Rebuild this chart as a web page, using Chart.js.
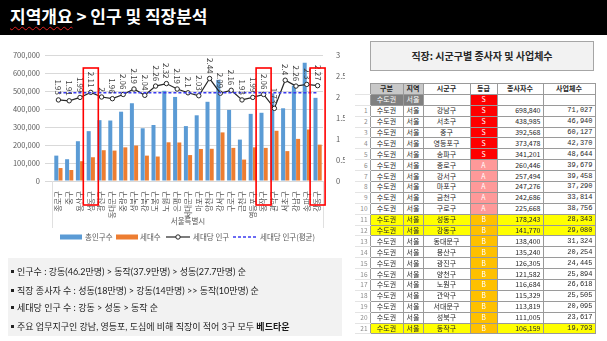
<!DOCTYPE html>
<html>
<head>
<meta charset="utf-8">
<script src="https://cdn.jsdelivr.net/npm/chart.js@4.4.1/dist/chart.umd.min.js"></script>
<style>
  body { margin: 0; width: 607px; height: 341px; background: #fff; position: relative; overflow: hidden; font-family: "Noto Sans CJK KR", sans-serif; }
  #hdr { position: absolute; left: 0; top: 0; width: 607px; height: 35px; background: #000; }
  #hdr .t { position: absolute; left: 10px; top: 6px; color: #fff; font-weight: 700; font-size: 17px; line-height: 20px; white-space: nowrap; }
  .wavy { text-decoration: underline wavy #e02020; text-decoration-thickness: 1px; text-underline-offset: 3px; }
  #legend span { position: absolute; top: 231px; font-size: 7.5px; line-height: 12px; color: #595959; white-space: nowrap; }
  #legend svg { position: absolute; top: 233px; }
  #notes { position: absolute; left: 8px; top: 258px; width: 334px; height: 78px; background: #f2f2f2; }
  #notes div { position: absolute; left: 3px; font-size: 9px; line-height: 12px; color: #1a1a1a; white-space: nowrap; font-family: "Lato", "Noto Sans CJK KR", sans-serif; }
  #notes i { display: inline-block; width: 3px; height: 3px; background: #222; margin: 0 3px 2px 0; vertical-align: middle; }
  #tTitle { position: absolute; left: 370px; top: 41px; width: 224px; height: 30px; background: #f2f2f2; border: 1px solid #a6a6a6; box-sizing: border-box;
            font-size: 10px; font-weight: 700; color: #262626; text-align: center; line-height: 28px; }
  #tbl { position: absolute; left: 355px; top: 83px; border-collapse: collapse; table-layout: fixed; font-size: 7px; }
  #tbl td { height: 10.9px; padding: 0 2px; line-height: 9px; border: 1px solid #9a9a9a; text-align: center; color: #262626; overflow: hidden; white-space: nowrap; box-sizing: border-box; }
  #tbl td.rn { border: none; border-bottom: 1px solid #e4e4e4; color: #8c8c8c; text-align: right; padding-right: 2px; font-size: 6.5px; }
  #tbl td.num { text-align: right; }
  #tbl td.mono { text-align: right; font-family: "Liberation Mono", monospace; }
  #tbl td.hd { font-weight: 700; }
  #tbl td.gr { color: #fff; }
</style>
</head>
<body>
<div id="hdr"><span class="t"><span class="wavy">지역개요</span> &gt; 인구 및 직장분석</span></div>

<canvas id="myChart" width="345" height="215"></canvas>

<div id="legend">
  <svg style="left:60px" width="22" height="8"><rect x="0" y="1.5" width="22" height="5" fill="#5b9bd5"/></svg>
  <span style="left:85px">총인구수</span>
  <svg style="left:116px" width="22" height="8"><rect x="0" y="1.5" width="22" height="5" fill="#ed7d31"/></svg>
  <span style="left:140px">세대수</span>
  <svg style="left:166px" width="24" height="8"><line x1="0" y1="4" x2="24" y2="4" stroke="#262626" stroke-width="1.2"/><circle cx="12" cy="4" r="2.2" fill="#fff" stroke="#262626" stroke-width="1"/></svg>
  <span style="left:193px">세대당 인구</span>
  <svg style="left:233px" width="24" height="8"><line x1="0" y1="4" x2="24" y2="4" stroke="#3b3bf0" stroke-width="1.5" stroke-dasharray="3 2"/></svg>
  <span style="left:260px">세대당 인구(평균)</span>
</div>

<div id="notes">
  <div style="top:8px"><i></i>인구수 : 강동(46.2만명) &gt; 동작(37.9만명) &gt; 성동(27.7만명) 순</div>
  <div style="top:27px"><i></i>직장 종사자 수 : 성동(18만명) &gt; 강동(14만명) &gt;&gt; 동작(10만명) 순</div>
  <div style="top:44px"><i></i>세대당 인구 수 : 강동 &gt; 성동 &gt; 동작 순</div>
  <div style="top:63px"><i></i>주요 업무지구인 강남, 영등포, 도심에 비해 직장이 적어 3구 모두 <b>베드타운</b></div>
</div>

<div id="tTitle">직장: 시군구별 종사자 및 사업체수</div>
<table id="tbl"></table>

<script>
// chart data (서울특별시 자치구)
const districts = ['종로구', '중구', '용산구', '성동구', '광진구', '동대문구', '중랑구', '성북구', '강북구', '도봉구', '노원구', '은평구', '서대문구',
                   '마포구', '양천구', '강서구', '구로구', '금천구', '영등포구', '동작구', '관악구', '서초구', '강남구', '송파구', '강동구'];
const population = [141000, 121000, 221000, 277000, 338000, 336000, 385000, 432000, 293000, 311000, 501000, 467000, 305000,
                    365000, 440000, 562000, 395000, 230000, 373000, 379000, 487000, 404000, 530000, 657000, 462000];
const households = [72000, 61000, 110000, 132000, 171000, 169000, 187000, 197000, 141000, 136000, 215000, 214000, 144000,
                    178000, 179000, 270000, 184000, 119000, 187000, 184000, 279000, 166000, 234000, 286000, 202000];
const perHousehold = [1.93, 1.91, 1.99, 2.11, 2, 1.96, 2.06, 2.19, 2.04, 2.26, 2.32, 2.19, 2.1,
                      2.03, 2.44, 2.09, 2.16, 1.93, 1.99, 2.06, 1.73, 2.4, 2.26, 2.3, 2.27];
const avgPerHousehold = 2.1;
const highlighted = ['성동구', '동작구', '강동구'];
const popTicks = { min: 0, max: 700000, step: 100000 };
const ratioTicks = { min: 0, max: 3, step: 0.5 };

// table data
const tblDistricts = ['강남구', '서초구', '중구', '영등포구', '송파구', '종로구', '강서구', '마포구', '금천구', '구로구', '성동구',
                      '강동구', '동대문구', '용산구', '광진구', '양천구', '노원구', '관악구', '서대문구', '성북구', '동작구'];
const tblWorkers = [698840, 438985, 392568, 373478, 341201, 260446, 257494, 247276, 242686, 225668, 178243,
                    141770, 138400, 135240, 126305, 121582, 116684, 115329, 113819, 111005, 106159];
const tblFirms = [71027, 46940, 60127, 42370, 48644, 39679, 39458, 37290, 33814, 38756, 28343,
                  29080, 31324, 20254, 24445, 25894, 26618, 25505, 20095, 23617, 19793];
const tblGrades = ['S', 'S', 'S', 'S', 'S', 'A', 'A', 'A', 'A', 'A', 'B', 'B', 'B', 'B', 'B', 'B', 'B', 'B', 'B', 'B', 'B'];
const tblHighlight = ['성동구', '강동구', '동작구'];

const gradeColor = { S: '#ff0000', A: '#ff9999', B: '#ffc000' };
const fmt = n => n.toLocaleString('en-US');

// build the table
const tbl = document.getElementById('tbl');
const widths = [15, 33, 20, 47, 27, 46, 52];
let html = '<colgroup>' + widths.map(w => `<col style="width:${w}px">`).join('') + '</colgroup>';
html += '<tr><td class="rn"></td><td class="hd" style="background:#c8c8c8">구분</td><td class="hd" style="background:#c8c8c8">지역</td>' +
        '<td class="hd">시군구</td><td class="hd">등급</td><td class="hd">종사자수</td><td class="hd">사업체수</td></tr>';
html += '<tr><td class="rn"></td><td style="background:#808080;color:#fff">수도권</td><td style="background:#808080;color:#fff">서울</td>' +
        `<td></td><td class="gr" style="background:${gradeColor.S}">S</td><td></td><td></td></tr>`;
tblDistricts.forEach((d, i) => {
  const bg = tblHighlight.includes(d) ? 'background:#ffff00;' : '';
  html += `<tr><td class="rn">${i + 1}</td><td style="${bg}">수도권</td><td style="${bg}">서울</td><td style="${bg}">${d}</td>` +
          `<td class="gr" style="background:${gradeColor[tblGrades[i]]}">${tblGrades[i]}</td>` +
          `<td class="num" style="${bg}">${fmt(tblWorkers[i])}</td><td class="mono" style="${bg}">${fmt(tblFirms[i])}</td></tr>`;
});
tbl.innerHTML = html;

const font = { family: '"Noto Sans CJK KR", sans-serif', size: 7.5 };
const txt = '#595959';

const extras = {
  id: 'extras',
  beforeDatasetsDraw(chart) {
    const { ctx, chartArea: a } = chart;
    ctx.save();
    ctx.strokeStyle = '#e0e0e0';
    ctx.lineWidth = 1;
    ctx.beginPath();
    ctx.moveTo(a.left - 0.5, a.bottom); ctx.lineTo(a.left - 0.5, a.bottom + 47);
    ctx.moveTo(a.right + 0.5, a.bottom); ctx.lineTo(a.right + 0.5, a.bottom + 47);
    ctx.stroke();
    ctx.restore();
  },
  afterDatasetsDraw(chart) {
    const { ctx, chartArea: a } = chart;
    const xs = chart.scales.x;
    ctx.save();
    // data labels for 세대당 인구
    ctx.font = '8px "Noto Sans CJK KR", sans-serif';
    ctx.fillStyle = '#404040';
    ctx.textAlign = 'right';
    ctx.textBaseline = 'middle';
    chart.getDatasetMeta(2).data.forEach((pt, i) => {
      ctx.save();
      ctx.translate(pt.x, pt.y - 5);
      ctx.rotate(Math.PI / 2);
      ctx.fillText(String(perHousehold[i]), 0, 0);
      ctx.restore();
    });
    // red boxes
    ctx.strokeStyle = '#ff0000';
    ctx.lineWidth = 1.6;
    highlighted.forEach(name => {
      const cx = xs.getPixelForValue(districts.indexOf(name));
      ctx.strokeRect(cx - 7.5, a.top + 13, 15, a.bottom - a.top + 11);
    });
    ctx.restore();
  }
};

const chartElement = document.getElementById('myChart');
chartElement.style.position = 'absolute';
chartElement.style.left = '0px';
chartElement.style.top = '40px';

new Chart(chartElement, {
  data: {
    labels: districts,
    datasets: [
      { type: 'bar', label: '총인구수', data: population, backgroundColor: '#5b9bd5', yAxisID: 'y', order: 3,
        categoryPercentage: 0.78, barPercentage: 0.95 },
      { type: 'bar', label: '세대수', data: households, backgroundColor: '#ed7d31', yAxisID: 'y', order: 3,
        categoryPercentage: 0.78, barPercentage: 0.95 },
      { type: 'line', label: '세대당 인구', data: perHousehold, yAxisID: 'y1', order: 1, borderColor: '#262626', borderWidth: 1.2,
        pointRadius: 2.2, pointBackgroundColor: '#fff', pointBorderColor: '#262626', pointBorderWidth: 1, tension: 0 },
      { type: 'line', label: '세대당 인구(평균)', data: districts.map(() => avgPerHousehold), yAxisID: 'y1', order: 0,
        borderColor: '#3b3bf0', borderWidth: 1.5, borderDash: [3, 2], pointRadius: 0 }
    ]
  },
  options: {
    responsive: false,
    animation: false,
    layout: { padding: { top: 15, right: 0, bottom: 26, left: 0 } },
    plugins: {
      tooltip: { enabled: false },
      legend: { display: false }
    },
    scales: {
      x: {
        grid: { display: false },
        border: { display: false },
        ticks: { minRotation: 90, maxRotation: 90, autoSkip: false, font: font, color: txt, padding: 2 },
        title: { display: true, text: '서울특별시', font: font, color: txt, padding: { top: 2, bottom: 3 } },
        afterFit(s) { s.height = 48; }
      },
      y: {
        min: popTicks.min, max: popTicks.max,
        ticks: { stepSize: popTicks.step, font: font, color: txt, padding: 5, callback: v => fmt(v) },
        grid: { color: '#d9d9d9' },
        border: { display: false },
        afterFit(s) { s.width = 53; }
      },
      y1: {
        position: 'right',
        min: ratioTicks.min, max: ratioTicks.max,
        ticks: { stepSize: ratioTicks.step, font: font, color: txt, padding: 5, callback: v => String(v) },
        grid: { display: false },
        border: { display: false },
        afterFit(s) { s.width = 22; }
      }
    }
  },
  plugins: [extras]
});
</script>
</body>
</html>
